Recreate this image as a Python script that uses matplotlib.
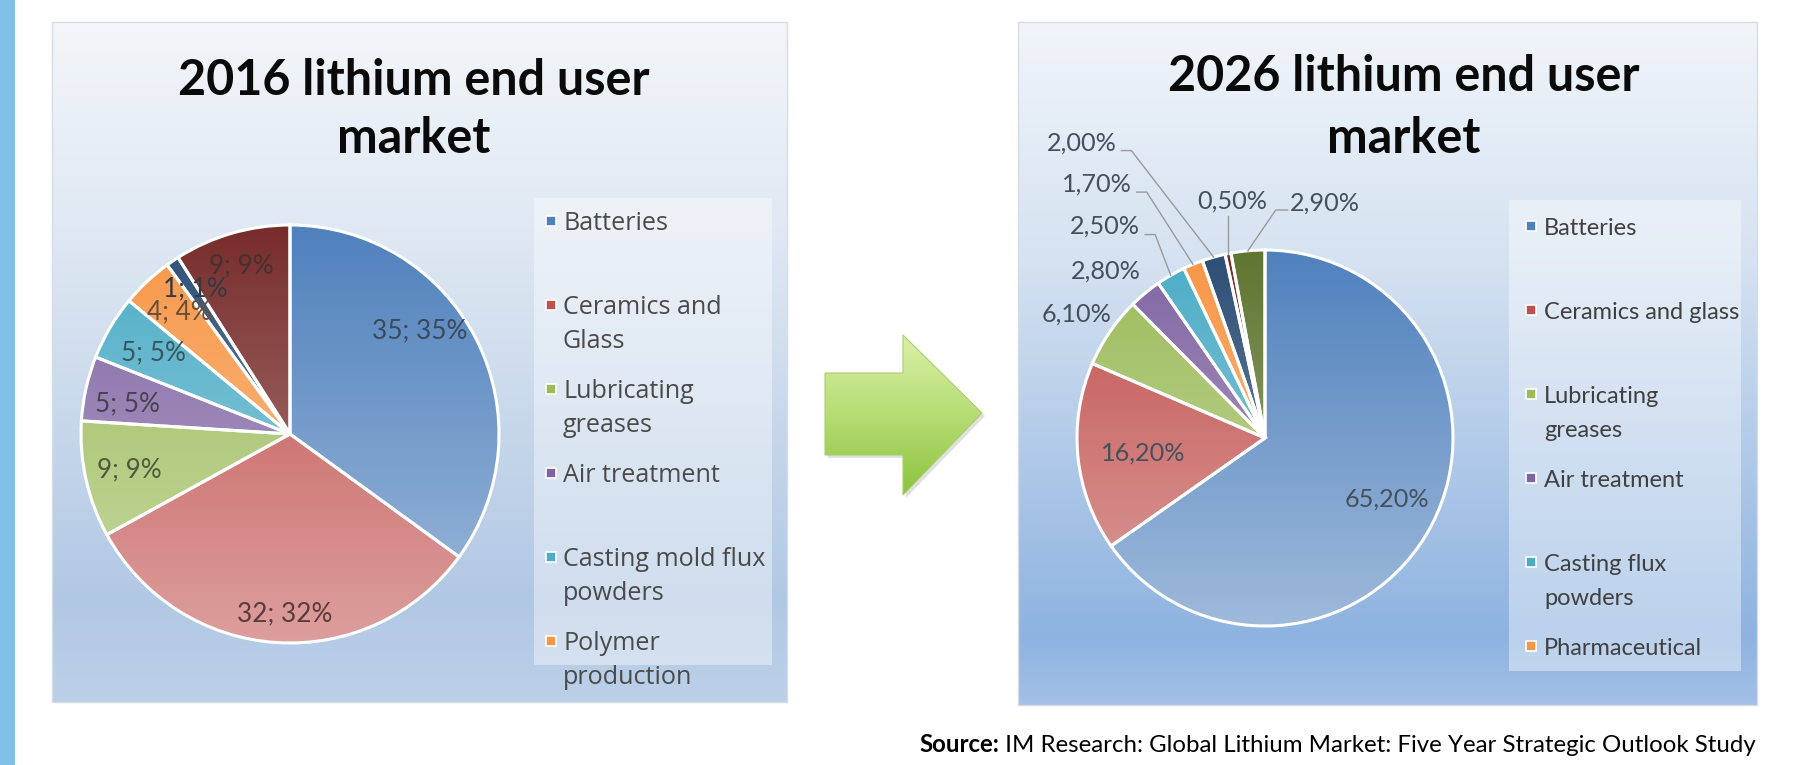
import textwrap
import numpy as np
import matplotlib
matplotlib.use("Agg")
import matplotlib.pyplot as plt
from matplotlib.colors import to_rgb
from matplotlib.patches import Rectangle, Polygon

# ---------------- data ----------------
left_title = ["2016 lithium end user", "market"]
right_title = ["2026 lithium end user", "market"]

left_categories = ["Batteries", "Ceramics and Glass", "Lubricating greases",
                   "Air treatment", "Casting mold flux powders", "Polymer production"]
left_values = [35, 32, 9, 5, 5, 4, 1, 9]

right_categories = ["Batteries", "Ceramics and glass", "Lubricating greases",
                    "Air treatment", "Casting flux powders", "Pharmaceutical"]
right_values = [65.2, 16.2, 6.1, 2.8, 2.5, 1.7, 2.0, 0.5, 2.9]

source_bold = "Source:"
source_rest = " IM Research: Global Lithium Market: Five Year Strategic Outlook Study"

# ---------------- style ----------------
W, H = 1820, 765
slice_colors = ["#4F81BD", "#C0504D", "#9BBB59", "#8064A2", "#4BACC6",
                "#F79646", "#2C4D75", "#772C2A", "#5F7530"]
TITLE_FONT = "Lato"
LABEL_FONT = "Lato"

left_label_r = [0.79, 0.86, 0.79, 0.79, 0.76, 0.79, 0.83, 0.84]
left_label_dth = [-11.5, -2, 0, -2, 0, 1, 1, 0]
right_label_r = [0.725, 0.65, 1.2, 1.23, 1.41, 1.62, 1.85, 1.27, 1.29]
right_label_dth = [-1, -1, -1, -4, -7, -11, -16, 3.5, 19.5]
right_leaders = [None, None, None, None, "left", "left", "left", "below", "right"]

fig = plt.figure(figsize=(W / 100, H / 100), dpi=100)
fig.patch.set_facecolor("white")
renderer = fig.canvas.get_renderer()


def fig_rect(x0, y0, x1, y1):
    return [x0 / W, 1 - y1 / H, (x1 - x0) / W, (y1 - y0) / H]


def fit_size(text, target_w, **kw):
    t = fig.text(0, 0, text, fontsize=20, **kw)
    w = t.get_window_extent(renderer).width
    t.remove()
    return 20 * target_w / w


def mix(c1, c2, a):
    c1 = np.array(to_rgb(c1)); c2 = np.array(to_rgb(c2))
    return tuple(c1 * (1 - a) + c2 * a)


def vgrad(stops, n=256):
    pos = np.array([s[0] for s in stops])
    cols = np.array([to_rgb(s[1]) for s in stops])
    t = np.linspace(0, 1, n)
    arr = np.stack([np.interp(t, pos, cols[:, k]) for k in range(3)], axis=-1)
    return arr[:, None, :]


# ---------------- base overlay axes (pixel coords) ----------------
ax0 = fig.add_axes([0, 0, 1, 1])
ax0.set_xlim(0, W); ax0.set_ylim(H, 0); ax0.axis("off")

# left blue strip
ax0.add_patch(Rectangle((0, 0), 15, H, color="#7fc0e8", lw=0))

panels = {
    "left": dict(x0=52, y0=22, x1=787, y1=702,
                 stops=[(0, "#f3f6fa"), (0.35, "#dce6f2"), (0.85, "#b1c8e4"), (1, "#bcd0e8")]),
    "right": dict(x0=1018, y0=22, x1=1757, y1=705,
                  stops=[(0, "#f1f5fa"), (0.35, "#d5e2f1"), (0.9, "#8eb3e0"), (1, "#a3c0e6")]),
}
for p in panels.values():
    ax0.imshow(vgrad(p["stops"]), extent=(p["x0"], p["x1"], p["y1"], p["y0"]),
               origin="upper", aspect="auto", interpolation="bilinear", zorder=1)
    ax0.add_patch(Rectangle((p["x0"], p["y0"]), p["x1"] - p["x0"], p["y1"] - p["y0"],
                            fill=False, ec="#d6dce4", lw=1, zorder=2))
ax0.set_xlim(0, W); ax0.set_ylim(H, 0)

# titles
tsize = fit_size(left_title[0], 472, family=TITLE_FONT, fontweight="bold")
for lines, cx, bases in [(left_title, 414, [95, 153]), (right_title, 1404, [91, 153])]:
    for ln, b in zip(lines, bases):
        ax0.text(cx, b, ln, ha="center", va="baseline", fontsize=tsize,
                 family=TITLE_FONT, fontweight="bold", color="#0a0a0a", zorder=5)

# legends
def draw_legend(cats, colors, box, marker_x, text_x, base0, step, gap, wrapw, font, size, tcolor):
    bx0, by0, bx1, by1 = box
    ax0.add_patch(Rectangle((bx0, by0), bx1 - bx0, by1 - by0, fc="white", alpha=0.4,
                            ec="none", zorder=3))
    for i, (c, col) in enumerate(zip(cats, colors)):
        b = base0 + i * step
        for j, ln in enumerate(textwrap.wrap(c, wrapw)):
            ax0.text(text_x, b + j * gap, ln, ha="left", va="baseline", fontsize=size,
                     family=font, color=tcolor, zorder=5)
        ax0.add_patch(Rectangle((marker_x - 5, b - 14), 10, 10, fc=col, ec="white",
                                lw=1.2, zorder=5))

lsize = fit_size("Casting mold flux", 202, family="Open Sans")
draw_legend(left_categories, slice_colors, (534, 198, 772, 665), 551, 563,
            230, 84, 34, 17, "Open Sans", lsize, "#4a4a4a")
rsize = fit_size("Ceramics and glass", 196, family=LABEL_FONT)
draw_legend(right_categories, slice_colors, (1509, 200, 1741, 671), 1531, 1544,
            235, 84, 34, 18, LABEL_FONT, rsize, "#404040")

# arrow
arrow_pts = [(825, 373), (903, 373), (903, 335), (982, 413), (903, 495), (903, 455), (825, 455)]
shadow = Polygon([(x + 3, y + 3) for x, y in arrow_pts], closed=True, fc="#000000",
                 alpha=0.12, ec="none", zorder=3)
ax0.add_patch(shadow)
arrow = Polygon(arrow_pts, closed=True, fc="none", ec="#a9cf6a", lw=0.8, zorder=5)
ax0.add_patch(arrow)
im = ax0.imshow(vgrad([(0, "#daf0a8"), (0.5, "#b6dd74"), (1, "#8cc33f")]),
                extent=(825, 982, 495, 335), origin="upper", aspect="auto",
                interpolation="bilinear", zorder=4)
im.set_clip_path(arrow)
ax0.set_xlim(0, W); ax0.set_ylim(H, 0)

# source line
ssize = fit_size(source_bold + source_rest, 836, family=LABEL_FONT)
t_rest = ax0.text(1756, 752, source_rest, ha="right", va="baseline", fontsize=ssize,
                  family=LABEL_FONT, color="black", zorder=5)
fig.canvas.draw()
bb = t_rest.get_window_extent(renderer)
x_left = ax0.transData.inverted().transform((bb.x0, bb.y0))[0]
ax0.text(x_left, 752, source_bold, ha="right", va="baseline", fontsize=ssize,
         family=LABEL_FONT, fontweight="bold", color="black", zorder=5)


# ---------------- pies ----------------
def draw_pie(cx, cy, R, values, colors):
    ax = fig.add_axes(fig_rect(cx - R, cy - R, cx + R, cy + R))
    wedges, _ = ax.pie(values, colors=colors, startangle=90, counterclock=False, radius=1,
                       wedgeprops=dict(edgecolor="white", linewidth=2.2))
    for w, c in zip(wedges, colors):
        top = np.array(to_rgb(c))
        bot = top + (1 - top) * 0.45
        arr = top + np.linspace(0, 1, 256)[:, None, None] * (bot - top)
        img = ax.imshow(arr, extent=(-1, 1, -1, 1), origin="upper", aspect="auto",
                        interpolation="bilinear", zorder=1)
        img.set_clip_path(w)
        w.set_facecolor("none"); w.set_zorder(2); w.set_clip_on(False)
    ax.set_xlim(-1, 1); ax.set_ylim(-1, 1); ax.set_aspect("auto"); ax.axis("off")
    total = float(sum(values))
    cum = np.cumsum([0] + list(values))[:-1]
    mids = [360 * (c0 + v / 2) / total for c0, v in zip(cum, values)]
    return ax, mids


def polar(r, th):
    th = np.radians(th)
    return r * np.sin(th), r * np.cos(th)


axL, midsL = draw_pie(290, 434, 209, left_values, slice_colors[:len(left_values)])
lab_size_L = fit_size("35; 35%", 95, family=LABEL_FONT)
totL = sum(left_values)
for i, v in enumerate(left_values):
    x, y = polar(left_label_r[i], midsL[i] + left_label_dth[i])
    pct = round(100 * v / totL)
    axL.text(x, y, f"{v}; {pct}%", ha="center", va="center", fontsize=lab_size_L,
             family=LABEL_FONT, color=mix(slice_colors[i], "#333333", 0.72),
             zorder=6, clip_on=False)

axR, midsR = draw_pie(1265, 438, 188, right_values, slice_colors[:len(right_values)])
lab_size_R = fit_size("2,00%", 70, family=LABEL_FONT)
fig.canvas.draw()
px = 1.0 / 188  # data units per pixel in right pie axes
for i, v in enumerate(right_values):
    x, y = polar(right_label_r[i], midsR[i] + right_label_dth[i])
    s = f"{v:.2f}%".replace(".", ",")
    t = axR.text(x, y, s, ha="center", va="center", fontsize=lab_size_R,
                 family=LABEL_FONT, color="#46505c", zorder=6, clip_on=False)
    kind = right_leaders[i]
    if kind is None:
        continue
    bb = t.get_window_extent(renderer).transformed(axR.transData.inverted())
    ex, ey = polar(1.0, midsR[i])
    if kind == "left":
        p0 = (bb.x1 + 5 * px, y - 8 * px)
        p1 = (p0[0] + 10 * px, p0[1])
        pts = [p0, p1, (ex, ey)]
    elif kind == "right":
        p0 = (bb.x0 - 2 * px, y - 7 * px)
        p1 = (p0[0] - 12 * px, p0[1])
        pts = [p0, p1, (ex, ey)]
    else:
        pts = [(ex, bb.y0 - 3 * px), (ex, ey)]
    axR.plot([p[0] for p in pts], [p[1] for p in pts], color="#9a9a9a", lw=1.0,
             zorder=5, clip_on=False)

fig.savefig("out.png", dpi=100, facecolor="white")
